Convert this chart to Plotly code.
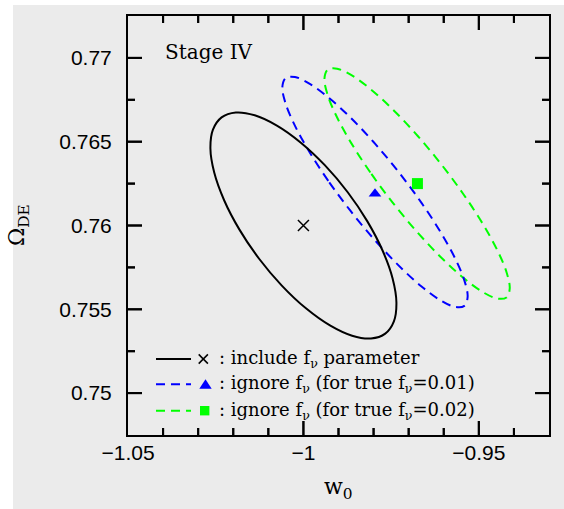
import plotly.graph_objects as go

# ---------------- data ----------------
# 1-sigma contour: include f_nu parameter (black, solid)
incl_w0 = [-1.01263, -1.01823, -1.02260, -1.02542, -1.02651, -1.02579, -1.02332, -1.01926,
           -1.01388, -1.00756, -1.00073, -0.99384, -0.98737, -0.98177, -0.97741, -0.97458,
           -0.97349, -0.97421, -0.97668, -0.98074, -0.98612, -0.99244, -0.99928, -1.00616]
incl_om = [0.758017, 0.759754, 0.761508, 0.763158, 0.764593, 0.765716, 0.766449, 0.766742,
           0.766577, 0.765962, 0.764942, 0.763584, 0.761983, 0.760246, 0.758492, 0.756842,
           0.755407, 0.754284, 0.753551, 0.753258, 0.753423, 0.754038, 0.755058, 0.756416]

# ignore f_nu, true f_nu = 0.01 (blue, dashed)
ign1_w0 = [-0.98656, -0.99292, -0.99836, -1.00253, -1.00514, -1.00600, -1.00507, -1.00240,
           -0.99818, -0.99269, -0.98631, -0.97947, -0.97264, -0.96629, -0.96084, -0.95667,
           -0.95406, -0.95320, -0.95413, -0.95680, -0.96102, -0.96651, -0.97289, -0.97973]
ign1_om = [0.760866, 0.762664, 0.764416, 0.766003, 0.767318, 0.768270, 0.768795, 0.768856,
           0.768452, 0.767607, 0.766380, 0.764854, 0.763134, 0.761336, 0.759584, 0.757997,
           0.756682, 0.755730, 0.755205, 0.755144, 0.755548, 0.756393, 0.757620, 0.759146]

# ignore f_nu, true f_nu = 0.02 (green, dashed)
ign2_w0 = [-0.97456, -0.98092, -0.98636, -0.99053, -0.99314, -0.99400, -0.99307, -0.99040,
           -0.98618, -0.98069, -0.97431, -0.96747, -0.96064, -0.95429, -0.94884, -0.94467,
           -0.94206, -0.94120, -0.94213, -0.94480, -0.94902, -0.95451, -0.96089, -0.96773]
ign2_om = [0.761366, 0.763164, 0.764916, 0.766503, 0.767818, 0.768770, 0.769295, 0.769356,
           0.768952, 0.768107, 0.766880, 0.765354, 0.763634, 0.761836, 0.760084, 0.758497,
           0.757182, 0.756230, 0.755705, 0.755644, 0.756048, 0.756893, 0.758120, 0.759646]

# best-fit points
fid_w0, fid_om = [-1.0], [0.76]
nu1_w0, nu1_om = [-0.9796], [0.7619]
nu2_w0, nu2_om = [-0.9675], [0.7625]

# axes
x_range = [-1.05, -0.93]
y_range = [0.7475, 0.7725]
x_tickvals = [-1.05, -1.0, -0.95]
x_ticktext = ["\u22121.05", "\u22121", "\u22120.95"]
x_minorvals = [-1.04, -1.03, -1.02, -1.01, -0.99, -0.98, -0.97, -0.96, -0.94]
y_tickvals = [0.75, 0.755, 0.76, 0.765, 0.77]
y_ticktext = ["0.75", "0.755", "0.76", "0.765", "0.77"]
y_minorvals = [0.7525, 0.7575, 0.7625, 0.7675]

legend_texts = [": include f<sub>\u03bd</sub> parameter",
                ": ignore f<sub>\u03bd</sub> (for true f<sub>\u03bd</sub>=0.01)",
                ": ignore f<sub>\u03bd</sub> (for true f<sub>\u03bd</sub>=0.02)"]
panel_label = "Stage IV"
x_title = "w<sub>0</sub>"
y_title = "\u03a9<sub>DE</sub>"

# ---------------- layout helpers ----------------
W, H = 564, 509
L, R, T, B = 128, 15, 16, 74
PW, PH = W - L - R, H - T - B
BG = "#ebebeb"
BLUE, GREEN = "#0000ff", "#00ff00"
DASH = "9px,6px"
SERIF = "DejaVu Serif"
MAJ, MIN = 14, 7  # tick lengths in pixels


def px(x):
    return (x - L) / PW


def py(y):
    return (H - B - y) / PH


def closed(a):
    return list(a) + [a[0]]


xspan = x_range[1] - x_range[0]
yspan = y_range[1] - y_range[0]

# inside tick marks on all four sides, as one line trace in data coordinates
tk_x, tk_y = [], []
for vals, ln in ((x_tickvals, MAJ), (x_minorvals, MIN)):
    d = ln / PH * yspan
    for v in vals:
        if x_range[0] < v < x_range[1]:
            tk_x += [v, v, None, v, v, None]
            tk_y += [y_range[0], y_range[0] + d, None, y_range[1], y_range[1] - d, None]
for vals, ln in ((y_tickvals, MAJ), (y_minorvals, MIN)):
    d = ln / PW * xspan
    for v in vals:
        if y_range[0] < v < y_range[1]:
            tk_x += [x_range[0], x_range[0] + d, None, x_range[1], x_range[1] - d, None]
            tk_y += [v, v, None, v, v, None]

fig = go.Figure()
fig.add_trace(go.Scatter(x=tk_x, y=tk_y, mode="lines", line=dict(color="black", width=2),
                         hoverinfo="skip", connectgaps=False, cliponaxis=False))
fig.add_trace(go.Scatter(x=closed(ign2_w0), y=closed(ign2_om), mode="lines",
                         line=dict(color=GREEN, width=2, dash=DASH, shape="spline", smoothing=1)))
fig.add_trace(go.Scatter(x=closed(ign1_w0), y=closed(ign1_om), mode="lines",
                         line=dict(color=BLUE, width=2, dash=DASH, shape="spline", smoothing=1)))
fig.add_trace(go.Scatter(x=closed(incl_w0), y=closed(incl_om), mode="lines",
                         line=dict(color="black", width=2, shape="spline", smoothing=1)))
fig.add_trace(go.Scatter(x=fid_w0, y=fid_om, mode="markers",
                         marker=dict(symbol="x-thin", size=11, line=dict(color="black", width=1.5))))
fig.add_trace(go.Scatter(x=nu1_w0, y=nu1_om, mode="markers",
                         marker=dict(symbol="triangle-up", size=11, color=BLUE)))
fig.add_trace(go.Scatter(x=nu2_w0, y=nu2_om, mode="markers",
                         marker=dict(symbol="square", size=11, color=GREEN)))

shapes = []
# white page margins of the original image
shapes.append(dict(type="rect", xref="paper", yref="paper", x0=px(-5), x1=px(13), y0=py(520), y1=py(-5),
                   fillcolor="white", line=dict(width=0), layer="above"))
shapes.append(dict(type="rect", xref="paper", yref="paper", x0=px(-5), x1=px(570), y0=py(5), y1=py(-5),
                   fillcolor="white", line=dict(width=0), layer="above"))

# the same tick marks as paper-referenced shapes (axis fraction of each tick value)
for vals, ln in ((x_tickvals, MAJ), (x_minorvals, MIN)):
    f = ln / PH
    for v in vals:
        if x_range[0] < v < x_range[1]:
            xf = (v - x_range[0]) / xspan
            shapes.append(dict(type="line", xref="paper", yref="paper", x0=xf, x1=xf, y0=0, y1=f,
                               line=dict(color="black", width=2), layer="above"))
            shapes.append(dict(type="line", xref="paper", yref="paper", x0=xf, x1=xf, y0=1, y1=1 - f,
                               line=dict(color="black", width=2), layer="above"))
for vals, ln in ((y_tickvals, MAJ), (y_minorvals, MIN)):
    f = ln / PW
    for v in vals:
        if y_range[0] < v < y_range[1]:
            yf = (v - y_range[0]) / yspan
            shapes.append(dict(type="line", xref="paper", yref="paper", y0=yf, y1=yf, x0=0, x1=f,
                               line=dict(color="black", width=2), layer="above"))
            shapes.append(dict(type="line", xref="paper", yref="paper", y0=yf, y1=yf, x0=1, x1=1 - f,
                               line=dict(color="black", width=2), layer="above"))

# legend samples
rows = [359, 384.3, 410.7]
styles = [("black", "solid"), (BLUE, DASH), (GREEN, DASH)]
for ry, (c, d) in zip(rows, styles):
    shapes.append(dict(type="line", xref="paper", yref="paper", x0=px(156), x1=px(191), y0=py(ry), y1=py(ry),
                       line=dict(color=c, width=2, dash=d)))
cx, cy, h = 203.3, 359, 4.6
shapes.append(dict(type="line", xref="paper", yref="paper", x0=px(cx - h), x1=px(cx + h),
                   y0=py(cy - h), y1=py(cy + h), line=dict(color="black", width=1.5)))
shapes.append(dict(type="line", xref="paper", yref="paper", x0=px(cx - h), x1=px(cx + h),
                   y0=py(cy + h), y1=py(cy - h), line=dict(color="black", width=1.5)))
tx, ty = 205.5, 384.3
shapes.append(dict(type="path", xref="paper", yref="paper",
                   path=f"M{px(tx-6.2)},{py(ty+4.5)} L{px(tx+6.2)},{py(ty+4.5)} L{px(tx)},{py(ty-5)} Z",
                   fillcolor=BLUE, line=dict(width=0)))
sx, sy, s = 204.7, 410.7, 4.7
shapes.append(dict(type="rect", xref="paper", yref="paper", x0=px(sx - s), x1=px(sx + s),
                   y0=py(sy + s), y1=py(sy - s), fillcolor=GREEN, line=dict(width=0)))

annotations = []
annotations.append(dict(text=panel_label, x=px(163), y=py(52), xref="paper", yref="paper",
                        xanchor="left", yanchor="middle", showarrow=False,
                        font=dict(family=SERIF, size=20, color="black")))
for ry, t in zip(rows, legend_texts):
    annotations.append(dict(text=t, x=px(217), y=py(ry), xref="paper", yref="paper",
                            xanchor="left", yanchor="middle", showarrow=False,
                            font=dict(family=SERIF, size=18, color="black")))
annotations.append(dict(text=x_title, x=px(338), y=py(488), xref="paper", yref="paper",
                        xanchor="center", yanchor="middle", showarrow=False,
                        font=dict(family=SERIF, size=22, color="black")))
annotations.append(dict(text=y_title, x=px(18), y=py(225), xref="paper", yref="paper",
                        xanchor="center", yanchor="middle", showarrow=False, textangle=-90,
                        font=dict(family=SERIF, size=22, color="black")))

tf = dict(family="Liberation Sans", size=21, color="black")
axis_common = dict(showgrid=False, zeroline=False, showline=True, linecolor="black", linewidth=2,
                   mirror=True, ticks="", tickfont=tf)

fig.update_layout(
    width=W, height=H, margin=dict(l=L, r=R, t=T, b=B),
    paper_bgcolor=BG, plot_bgcolor=BG, showlegend=False,
    xaxis=dict(range=x_range, tickmode="array", tickvals=x_tickvals, ticktext=x_ticktext,
               ticklabelstandoff=-2, **axis_common),
    yaxis=dict(range=y_range, tickmode="array", tickvals=y_tickvals, ticktext=y_ticktext,
               ticklabelstandoff=10, **axis_common),
    shapes=shapes, annotations=annotations,
)

fig.write_html("out.html")
